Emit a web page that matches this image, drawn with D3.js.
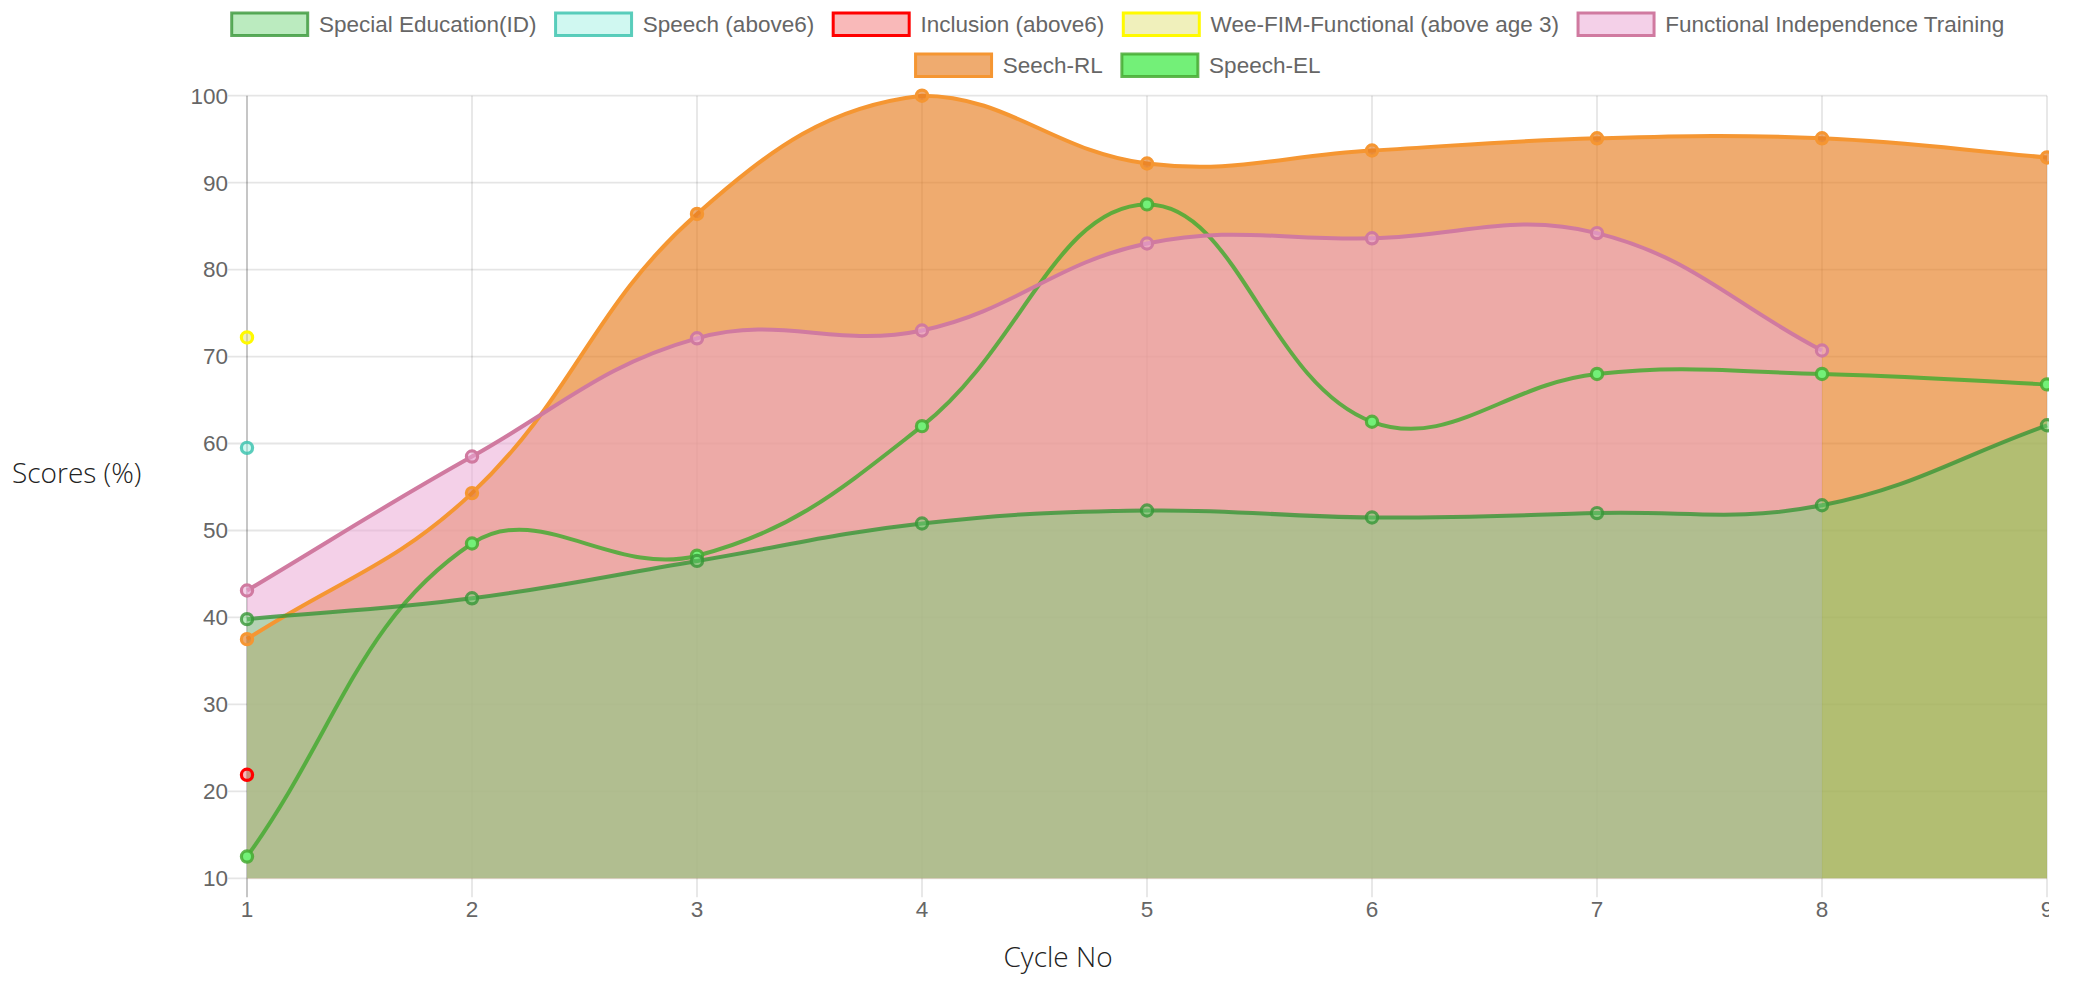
<!DOCTYPE html>
<html>
<head>
<meta charset="utf-8">
<script src="https://cdn.jsdelivr.net/npm/d3@7/dist/d3.min.js"></script>
<style>
  body { margin: 0; background: #fff; }
  svg { display: block; }
</style>
</head>
<body>
<svg id="chart" width="2075" height="981"></svg>
<script>
// chart values
const cycles = [1, 2, 3, 4, 5, 6, 7, 8, 9];
const specialEducation = [39.8, 42.2, 46.5, 50.8, 52.3, 51.5, 52.0, 52.9, 62.1];
const speechAbove6 = [59.5, null, null, null, null, null, null, null, null];
const inclusionAbove6 = [21.9, null, null, null, null, null, null, null, null];
const weeFimFunctional = [72.2, null, null, null, null, null, null, null, null];
const functionalIndependence = [43.1, 58.5, 72.1, 73.0, 83.0, 83.6, 84.2, 70.7, null];
const seechRL = [37.5, 54.3, 86.4, 100, 92.2, 93.7, 95.1, 95.1, 92.9];
const speechEL = [12.5, 48.5, 47.1, 62.0, 87.5, 62.5, 68.0, 68.0, 66.8];
const yTicks = [10, 20, 30, 40, 50, 60, 70, 80, 90, 100];

const datasets = [
    { label: 'Special Education(ID)', values: specialEducation, border: 'rgba(55,150,55,0.8)', bg: 'rgba(110,213,119,0.47)', fill: true },
    { label: 'Speech (above6)', values: speechAbove6, border: 'rgba(64,196,176,0.85)', bg: 'rgba(150,240,225,0.45)', fill: true },
    { label: 'Inclusion (above6)', values: inclusionAbove6, border: 'rgb(255,0,0)', bg: 'rgba(240,80,80,0.4)', fill: true },
    { label: 'Wee-FIM-Functional (above age 3)', values: weeFimFunctional, border: 'rgb(255,250,0)', bg: 'rgba(225,225,120,0.5)', fill: true },
    { label: 'Functional Independence Training', values: functionalIndependence, border: 'rgb(208,122,160)', bg: 'rgba(235,169,213,0.55)', fill: true },
    { label: 'Seech-RL', values: seechRL, border: 'rgb(245,150,50)', bg: 'rgba(230,126,34,0.65)', fill: true },
    { label: 'Speech-EL', values: speechEL, border: 'rgba(70,170,50,0.85)', bg: 'rgb(115,240,120)', fill: false }
];

const s = 1.9; // chart scale
const fontSize = 22.5;
const textColor = '#666';
const tickFont = '"Liberation Sans", Arial, Helvetica, sans-serif';

const svg = d3.select('#chart');
const area = { left: 247, right: 2047, top: 95.7, bottom: 878.3 };

const x = d3.scalePoint().domain(cycles).range([area.left, area.right]);
const y = d3.scaleLinear().domain([10, 100]).range([area.bottom, area.top]);

// Chart.js style spline (tension 0.4, control points kept inside the chart area)
const tension = 0.4;
function clamp(v, lo, hi) { return Math.max(lo, Math.min(hi, v)); }
function splinePoints(prev, cur, next) {
    const d01 = Math.hypot(cur[0] - prev[0], cur[1] - prev[1]);
    const d12 = Math.hypot(next[0] - cur[0], next[1] - cur[1]);
    let s01 = d01 / (d01 + d12), s12 = d12 / (d01 + d12);
    if (isNaN(s01)) s01 = 0;
    if (isNaN(s12)) s12 = 0;
    const fa = tension * s01, fb = tension * s12;
    const cap = p => [clamp(p[0], area.left, area.right), clamp(p[1], area.top, area.bottom)];
    return {
        prev: cap([cur[0] - fa * (next[0] - prev[0]), cur[1] - fa * (next[1] - prev[1])]),
        next: cap([cur[0] + fb * (next[0] - prev[0]), cur[1] + fb * (next[1] - prev[1])])
    };
}
function ChartSpline(context) { this._context = context; }
ChartSpline.prototype = {
    areaStart() { this._line = 0; },
    areaEnd() { this._line = NaN; },
    lineStart() { this._pts = []; },
    point(px, py) { this._pts.push([+px, +py]); },
    lineEnd() {
        const p = this._pts, c = this._context, n = p.length;
        if (n) {
            if (this._line) c.lineTo(p[0][0], p[0][1]); else c.moveTo(p[0][0], p[0][1]);
            const ctrl = p.map((cur, i) => splinePoints(p[i - 1] || cur, cur, p[i + 1] || cur));
            for (let i = 1; i < n; i++) {
                c.bezierCurveTo(ctrl[i - 1].next[0], ctrl[i - 1].next[1], ctrl[i].prev[0], ctrl[i].prev[1], p[i][0], p[i][1]);
            }
        }
        if (this._line || (this._line !== 0 && n === 1)) c.closePath();
        this._line = 1 - this._line;
    }
};
const chartCurve = context => new ChartSpline(context);

svg.append('defs').append('clipPath').attr('id', 'canvasClip')
    .append('rect').attr('x', 0).attr('y', 0).attr('width', 2049).attr('height', 981);

const root = svg.append('g').attr('clip-path', 'url(#canvasClip)');

// grid lines
const grid = root.append('g');
grid.selectAll('line.h')
    .data(yTicks)
    .join('line')
    .attr('x1', area.left - 10 * s).attr('x2', area.right)
    .attr('y1', d => y(d)).attr('y2', d => y(d))
    .style('stroke', 'rgba(0,0,0,0.1)')
    .style('stroke-width', 1.8);
grid.selectAll('line.v')
    .data(cycles)
    .join('line')
    .attr('x1', d => x(d)).attr('x2', d => x(d))
    .attr('y1', area.top).attr('y2', area.bottom + 10 * s)
    .style('stroke', (d, i) => i === 0 ? 'rgba(0,0,0,0.25)' : 'rgba(0,0,0,0.1)')
    .style('stroke-width', 1.8);

// fills (drawn last dataset first)
const areaGen = d3.area()
    .defined(d => d.v != null)
    .x(d => x(d.c))
    .y0(area.bottom)
    .y1(d => y(d.v))
    .curve(chartCurve);
const lineGen = d3.line()
    .defined(d => d.v != null)
    .x(d => x(d.c))
    .y(d => y(d.v))
    .curve(chartCurve);

const series = datasets.map(ds => ({ ...ds, pts: cycles.map((c, i) => ({ c, v: ds.values[i] })) }));
const reversed = series.slice().reverse();

root.append('g')
    .selectAll('path')
    .data(reversed.filter(d => d.fill && d.values.filter(v => v != null).length > 1))
    .join('path')
    .attr('d', d => areaGen(d.pts))
    .style('fill', d => d.bg);

reversed.forEach(ds => {
    const g = root.append('g');
    if (ds.values.filter(v => v != null).length > 1) {
        g.append('path')
            .attr('d', lineGen(ds.pts))
            .style('fill', 'none')
            .style('stroke', ds.border)
            .style('stroke-width', 4)
            .style('stroke-linejoin', 'round');
    }
    g.selectAll('circle')
        .data(ds.pts.filter(d => d.v != null))
        .join('circle')
        .attr('cx', d => x(d.c))
        .attr('cy', d => y(d.v))
        .attr('r', 5.6)
        .style('fill', ds.bg)
        .style('stroke', ds.border)
        .style('stroke-width', 3.2);
});

// tick labels
root.append('g')
    .selectAll('text')
    .data(yTicks)
    .join('text')
    .attr('x', area.left - 19)
    .attr('y', d => y(d))
    .attr('dy', '0.35em')
    .attr('text-anchor', 'end')
    .style('font-family', tickFont)
    .style('font-size', fontSize + 'px')
    .style('fill', textColor)
    .text(d => d);

root.append('g')
    .selectAll('text')
    .data(cycles)
    .join('text')
    .attr('x', d => x(d))
    .attr('y', 917)
    .attr('text-anchor', 'middle')
    .style('font-family', tickFont)
    .style('font-size', fontSize + 'px')
    .style('fill', textColor)
    .text(d => d);

// legend, wrapped in rows and centered like Chart.js does it
const boxW = 40 * s, boxH = fontSize, pad = 10 * s;
const legendCenter = 1118, legendMax = 1862;
const legend = svg.append('g');
const items = datasets.map(ds => {
    const g = legend.append('g');
    g.append('rect')
        .attr('width', boxW).attr('height', boxH)
        .style('fill', ds.bg)
        .style('stroke', ds.border)
        .style('stroke-width', 3);
    const t = g.append('text')
        .attr('x', boxW + fontSize / 2)
        .attr('y', boxH / 2)
        .attr('dy', '0.35em')
        .style('font-family', tickFont)
        .style('font-size', fontSize + 'px')
        .style('fill', textColor)
        .text(ds.label);
    return { g, w: boxW + fontSize / 2 + t.node().getComputedTextLength() };
});
const rows = [[]];
let rowW = 0;
items.forEach(it => {
    if (rowW + it.w + pad > legendMax && rows[rows.length - 1].length) { rows.push([]); rowW = 0; }
    rows[rows.length - 1].push(it);
    rowW += it.w + pad;
});
rows.forEach((row, r) => {
    const total = d3.sum(row, d => d.w) + pad * (row.length - 1);
    let cx = legendCenter - total / 2;
    row.forEach(it => {
        it.g.attr('transform', `translate(${cx},${13 + r * 41})`);
        cx += it.w + pad;
    });
});

// axis titles
svg.append('text')
    .attr('x', 12)
    .attr('y', 483)
    .style('font-family', '"Open Sans", "Noto Sans", sans-serif')
    .style('font-weight', 300)
    .style('font-size', '28px')
    .style('fill', '#222')
    .text('Scores (%)');
svg.append('text')
    .attr('x', 1058)
    .attr('y', 967)
    .attr('text-anchor', 'middle')
    .style('font-family', '"Open Sans", "Noto Sans", sans-serif')
    .style('font-weight', 300)
    .style('font-size', '28px')
    .style('fill', '#222')
    .text('Cycle No');
</script>
</body>
</html>
